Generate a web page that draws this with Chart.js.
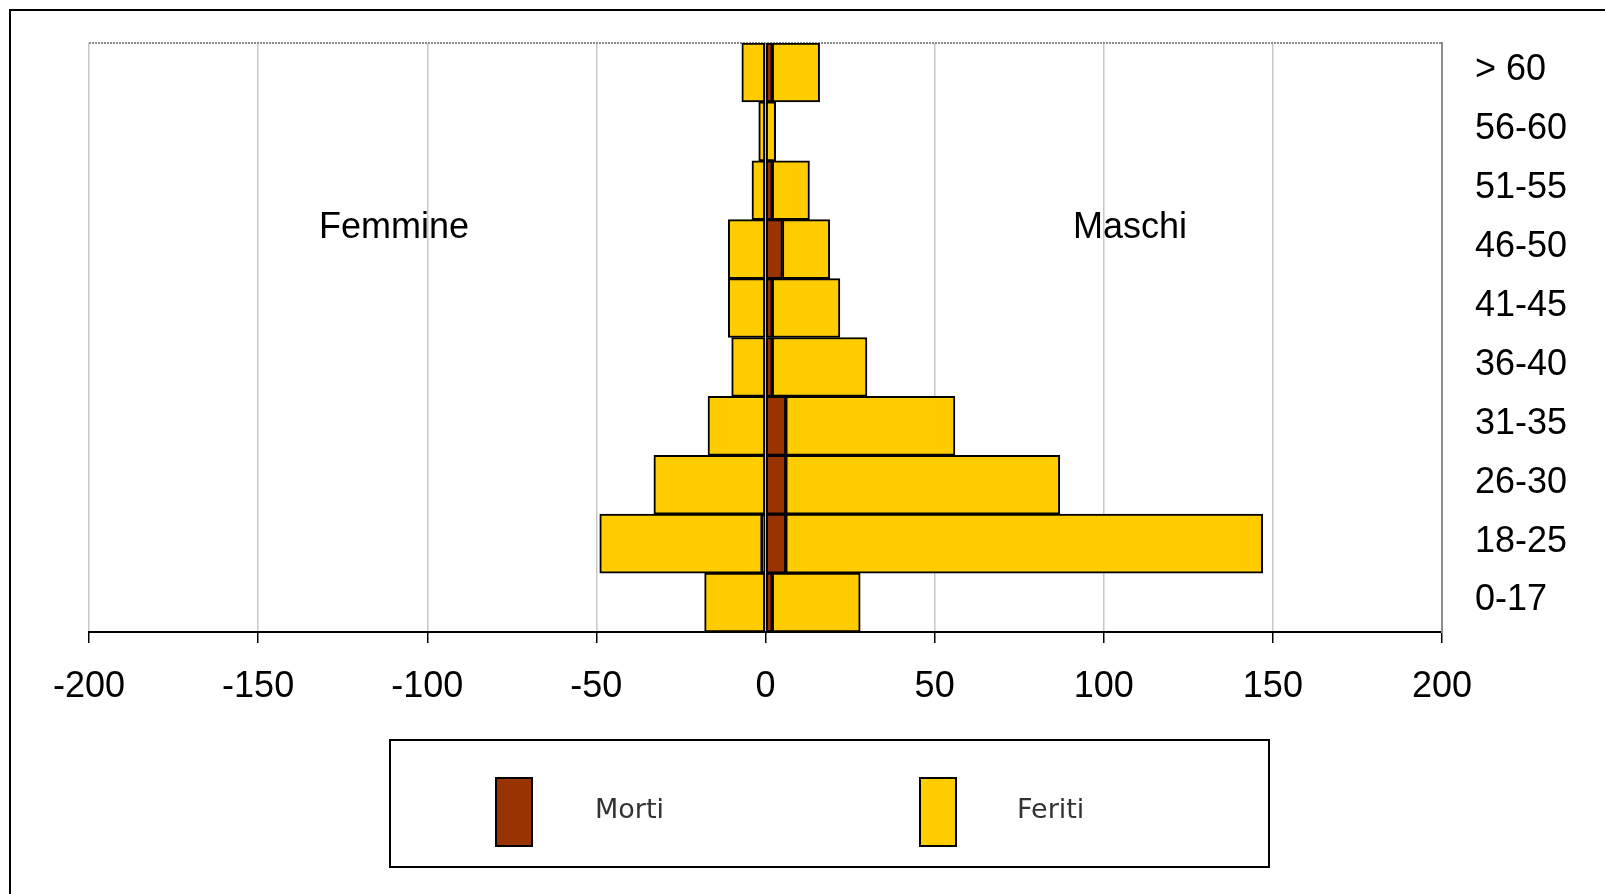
<!DOCTYPE html>
<html>
<head>
<meta charset="utf-8">
<script src="https://cdn.jsdelivr.net/npm/chart.js@4.4.0/dist/chart.umd.min.js"></script>
<style>
    body { margin: 0; background: #fff; }
    #wrap { position: relative; width: 1605px; height: 894px; overflow: hidden; }
    #frame { position: absolute; left: 9px; top: 9px; width: 1700px; height: 1000px; border: 2px solid #000; }
    canvas { position: absolute; left: 0; top: 0; }
    .side { position: absolute; font-family: "Liberation Sans", Arial, sans-serif; font-size: 36px; color: #000; transform: translate(-50%, -50%); white-space: nowrap; }
    #legend { position: absolute; left: 389px; top: 739px; width: 877px; height: 125px; border: 2px solid #000; }
    .sw { position: absolute; top: 36px; width: 34px; height: 66px; border: 2px solid #000; }
    .lt { position: absolute; top: 67px; transform: translateY(-50%); font-family: "DejaVu Sans", Verdana, sans-serif; font-size: 27px; color: #333; }
</style>
</head>
<body>
<div id="wrap">
    <div id="frame"></div>
    <canvas id="piramide"></canvas>
    <div class="side" style="left:394px; top:226px;">Femmine</div>
    <div class="side" style="left:1130px; top:226px;">Maschi</div>
    <div id="legend">
        <div class="sw" style="left:104px; background:#993300;"></div>
        <div class="lt" style="left:204px;">Morti</div>
        <div class="sw" style="left:528px; background:#FFCC00;"></div>
        <div class="lt" style="left:626px;">Feriti</div>
    </div>
</div>
<script>
// fasce d'età, dall'alto verso il basso
const fasce = ['> 60', '56-60', '51-55', '46-50', '41-45', '36-40', '31-35', '26-30', '18-25', '0-17'];

// maschi (valori positivi)
const mortiMaschi  = [2, 0, 2, 5, 2, 2, 6, 6, 6, 2];
const feritiMaschi = [14, 3, 11, 14, 20, 28, 50, 81, 141, 26];

// femmine (valori negativi)
const mortiFemmine  = [0, 0, 0, 0, 0, 0, 0, 0, -1, 0];
const feritiFemmine = [-7, -2, -4, -11, -11, -10, -17, -33, -48, -18];

const assiX = [-200, -150, -100, -50, 0, 50, 100, 150, 200];

const MARRONE = '#993300';
const GIALLO = '#FFCC00';

const cornice = {
    id: 'cornice',
    beforeDatasetsDraw(chart) {
        const a = chart.chartArea;
        const c = chart.ctx;
        c.save();
        c.strokeStyle = '#8c8c8c';
        c.lineWidth = 2;
        c.setLineDash([2, 1]);
        c.beginPath();
        c.moveTo(a.left, a.top);
        c.lineTo(a.right, a.top);
        c.stroke();
        c.restore();
    }
};

function barra(label, data, colore) {
    return {
        label: label,
        data: data,
        backgroundColor: colore,
        borderColor: '#000',
        borderWidth: 2,
        borderSkipped: false,
        barPercentage: 1,
        categoryPercentage: 1,
        stack: 'tot'
    };
}

const ctx = document.getElementById('piramide').getContext('2d');
document.getElementById('piramide').width = 1605;
document.getElementById('piramide').height = 894;

new Chart(ctx, {
    type: 'bar',
    data: {
        labels: fasce,
        datasets: [
            barra('Morti', mortiMaschi, MARRONE),
            barra('Morti F', mortiFemmine, MARRONE),
            barra('Feriti', feritiMaschi, GIALLO),
            barra('Feriti F', feritiFemmine, GIALLO)
        ]
    },
    options: {
        responsive: false,
        animation: false,
        indexAxis: 'y',
        layout: { padding: { left: 89, top: 43, right: 0, bottom: 0 } },
        plugins: {
            legend: { display: false },
            tooltip: { enabled: false }
        },
        scales: {
            x: {
                stacked: true,
                min: assiX[0],
                max: assiX[assiX.length - 1],
                afterBuildTicks: function (scale) {
                    scale.ticks = assiX.map(v => ({ value: v }));
                },
                afterFit: function (scale) {
                    scale.height = 894 - 632;
                    scale.paddingLeft = 0;
                    scale.paddingRight = 0;
                },
                grid: { color: '#c8c8c8', lineWidth: 1.5, tickColor: '#000', tickLength: 11 },
                border: { color: '#000', width: 2 },
                ticks: {
                    color: '#000',
                    padding: 22,
                    maxRotation: 0,
                    font: { family: '"Liberation Sans", Arial, sans-serif', size: 36 }
                }
            },
            y: {
                stacked: true,
                position: 'right',
                afterFit: function (scale) {
                    scale.width = 1605 - 1442;
                    scale.paddingTop = 0;
                    scale.paddingBottom = 0;
                },
                grid: { display: false, drawTicks: false },
                border: { display: true, color: '#8c8c8c', width: 2 },
                ticks: {
                    color: '#000',
                    padding: 33,
                    labelOffset: -2,
                    font: { family: '"Liberation Sans", Arial, sans-serif', size: 36 }
                }
            }
        }
    },
    plugins: [cornice]
});
</script>
</body>
</html>
